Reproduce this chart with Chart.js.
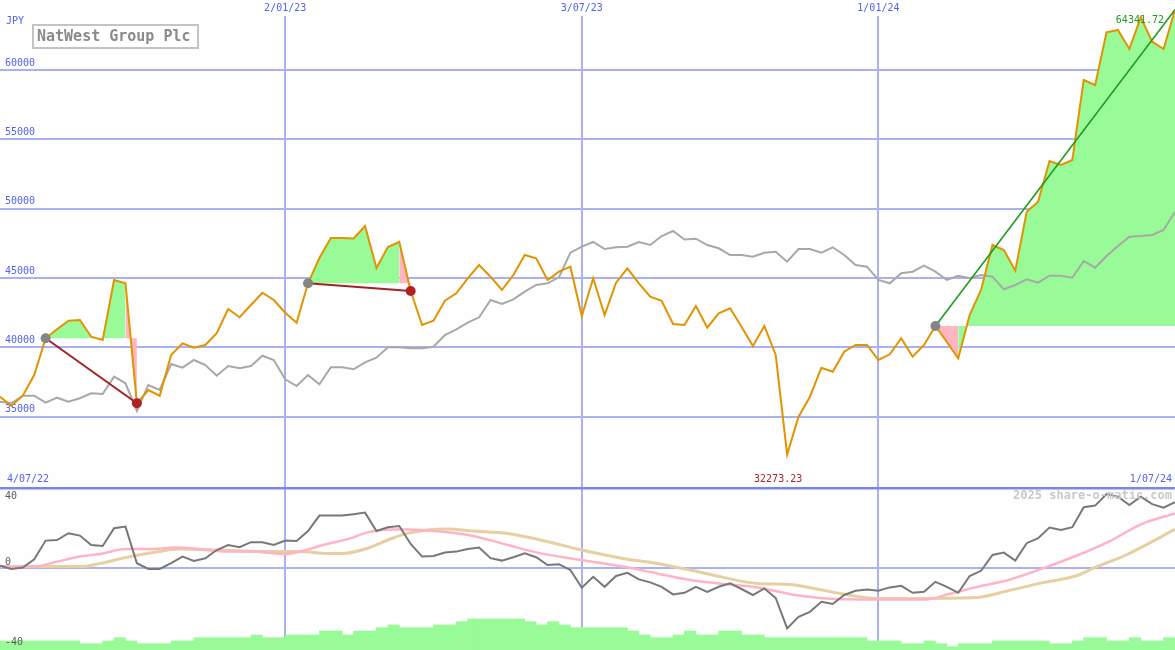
<!DOCTYPE html>
<html>
<head>
<meta charset="utf-8">
<script src="https://cdn.jsdelivr.net/npm/chart.js@4.4.1/dist/chart.umd.min.js"></script>
<style>
  html, body { margin: 0; padding: 0; background: #fdfefd; }
  #wrap { position: relative; width: 1175px; height: 650px; overflow: hidden; }
  #top { position: absolute; left: 0; top: 0; }
  #bottom { position: absolute; left: 0; top: 486px; }
</style>
</head>
<body>
<div id="wrap">
  <canvas id="top" width="1175" height="486"></canvas>
  <canvas id="bottom" width="1175" height="164"></canvas>
</div>
<script>
// weekly closes, 4/07/22 .. 1/07/24 (index 0 = first week shown)
const dateWeeks = [25, 51, 77];
const dateLabels = ["2/01/23", "3/07/23", "1/01/24"];
const firstDate = "4/07/22";
const lastDate = "1/07/24";
const priceTicks = [35000, 40000, 45000, 50000, 55000, 60000];

const price = [36445, 35796, 36517, 38010, 40656, 41304, 41925, 41975, 40771, 40533,
  44859, 44621, 35969, 36928, 36517, 39451, 40295, 39978, 40172, 41016,
  42768, 42170, 43056, 43943, 43417, 42501, 41780, 44621, 46445, 47887,
  47887, 47851, 48752, 45724, 47238, 47599, 44066, 41614, 41925, 43367,
  43900, 44982, 45940, 45097, 44138, 45219, 46661, 46424, 44859, 45457,
  45818, 42263, 44982, 42335, 44664, 45703, 44621, 43655, 43367, 41687,
  41614, 42984, 41420, 42458, 42819, 41492, 40100, 41542, 39451, 32273.23,
  35003, 36445, 38536, 38247, 39689, 40172, 40172, 39091, 39502, 40656,
  39329, 40172, 41542, 40389, 39214, 42335, 44138, 47382, 47022, 45530,
  49783, 50504, 53439, 53150, 53511, 59279, 58918, 62718, 62884, 61514,
  63800, 62040, 61514, 64341.72];

// comparison line (grey)
const compare = [36084, 35969, 36517, 36517, 36012, 36373, 36084, 36330, 36690, 36640,
  37887, 37411, 35414, 37288, 36928, 38803, 38536, 39091, 38730, 37959,
  38658, 38493, 38658, 39401, 39091, 37699, 37216, 38010, 37339, 38565,
  38565, 38420, 38925, 39257, 40007, 40007, 39935, 39935, 40050, 40893,
  41304, 41780, 42170, 43417, 43129, 43467, 44015, 44498, 44621, 45054,
  46827, 47260, 47599, 47094, 47217, 47260, 47599, 47382, 48031, 48392,
  47779, 47837, 47382, 47145, 46661, 46661, 46539, 46827, 46899, 46178,
  47094, 47094, 46827, 47217, 46661, 45940, 45818, 44859, 44621, 45342,
  45457, 45890, 45457, 44859, 45169, 44982, 45219, 45097, 44188, 44498,
  44909, 44664, 45169, 45169, 45025, 46229, 45746, 46589, 47310, 47981,
  48031, 48103, 48464, 49783];

// trends: start week, end week
const trendStart = [4, 27, 82];
const trendEnd = [12, 36, 103];

// lower panel
const oscillator = [1.2, -0.5, 0.2, 4.4, 13.7, 14, 17.4, 16.2, 11.5, 11,
  19.9, 20.7, 2.4, -0.5, -0.5, 2.4, 5.7, 3.5, 4.9, 9,
  11.5, 10.4, 12.9, 12.9, 11.5, 13.7, 13.5, 18.5, 26.2, 26.2,
  26.2, 26.9, 27.7, 18.5, 20.4, 21, 12, 5.7, 6, 7.7,
  8.2, 9.5, 10.2, 4.9, 3.7, 5.4, 7.4, 5.4, 1.5, 1.9,
  -1, -9.9, -4.4, -9.4, -4, -2.4, -5.7, -7.2, -9.4, -13.2,
  -12.4, -9.4, -11.9, -9.4, -7.7, -10.5, -13.5, -10.2, -15, -30.2,
  -24.4, -21.9, -16.9, -18, -13.5, -11.4, -10.7, -11.4, -9.7, -8.9,
  -12.4, -11.9, -6.9, -9.4, -12.4, -4, -1.4, 6.5, 7.7, 3.7,
  12.4, 14.9, 20.2, 19, 20.4, 30.4, 31.2, 37, 35.7, 31.5,
  35.7, 31.9, 30.2, 32.9];

const fastWeeks = [0, 3, 5, 7, 9, 11, 13.4, 15.5, 17.5, 20, 22, 25, 26.3, 28.3, 30.7, 32.2, 34.2, 35.7, 38.6, 41.5,
  44.5, 47.4, 51, 54.6, 57.6, 60.5, 63.4, 66.4, 69.7, 72.4, 76.8, 81.1, 83.2, 85.5, 88.4, 91.4, 94.3, 97.2, 100.2, 103];
const fastAvg = [0.7, 0.7, 3.2, 5.7, 7.3, 9.5, 9.5, 10.2, 9.4, 8.2, 8.2, 7, 8.2, 11.5, 14.8, 17.8, 19.3, 19.3, 18.2, 16,
  11.5, 7.3, 4, 0.7, -2.7, -6, -8, -9.7, -13.5, -15.2, -15.7, -15.7, -13, -9.7, -6, -0.2, 6, 13.2, 22.3, 27.3];

const slowWeeks = [0, 7.3, 8.8, 11.1, 13.4, 15.8, 18.7, 20.4, 23.4, 26.3, 28.7, 30.1, 32.2, 34.2, 35.7, 39.2, 41.5, 44.5, 47.4, 51,
  54.6, 57.6, 60.5, 63.4, 66.4, 69.3, 70.9, 73.9, 76.8, 81.1, 85.5, 88.4, 91.4, 94.3, 96, 98.7, 103];
const slowAvg = [0.7, 0.7, 2.3, 5.3, 7.7, 9.5, 9, 8.7, 8.2, 8.2, 7.3, 7.3, 9.8, 14.5, 17.3, 19.5, 18.5, 17.3, 14, 9,
  4.8, 2.3, -1, -4.7, -7.7, -8.2, -9.7, -13, -15.2, -15.2, -14.8, -11.3, -7.3, -4, 0.3, 6.5, 19.3];

// weekly volume, relative units
const volume = [9, 9, 9, 9, 9, 9, 9, 6.3, 6.3, 9, 12.3, 9, 6.3, 6.3, 6.3, 9, 9, 12.3, 12.3, 12.3,
  12.3, 12.3, 15, 12.3, 12.3, 15, 15, 15, 19, 19, 15, 19, 19, 22.3, 25, 22.3, 22.3, 22.3, 25, 25,
  28.3, 31, 31, 31, 31, 31, 28.3, 25, 28.3, 25, 22.3, 22.3, 22.3, 22.3, 22.3, 19, 15, 12.3, 12.3, 15,
  19, 15, 15, 19, 19, 15, 15, 12.3, 12.3, 12.3, 12.3, 12.3, 12.3, 12.3, 12.3, 12.3, 9, 9, 9, 6.3,
  6.3, 9, 6.3, 3.3, 6.3, 6.3, 6.3, 9, 9, 9, 9, 9, 6.3, 6.3, 9, 12.3, 12.3, 9, 9, 12.3,
  9, 9, 12.3];

const mono = "'DejaVu Sans Mono', monospace";
const blue = '#5263ee';
const gridCol = '#a9b1f1';
const green = '#98fb98';
const pink = '#ffb6c1';

Chart.defaults.font.family = mono;
Chart.defaults.animation = false;

const xy = (arr, x0) => arr.map((v, k) => ({x: (x0 || 0) + k, y: v}));

// stop the axes from reserving room for their labels
function noPad(s) {
  s.paddingLeft = 0; s.paddingRight = 0; s.paddingTop = 0; s.paddingBottom = 0;
}

function trendFill(s, e) {
  const base = price[s];
  return {
    data: xy(price.slice(s, e + 1), s),
    borderWidth: 0,
    borderColor: 'rgba(0,0,0,0)',
    pointRadius: 0,
    backgroundColor: green,
    fill: {value: base},
    segment: {backgroundColor: c => c.p1.parsed.y >= base ? green : pink},
    order: 3
  };
}

function trendLine(s, e) {
  const up = price[e] > price[s];
  return {
    data: [{x: s, y: price[s]}, {x: e, y: price[e]}],
    borderColor: up ? '#1f9a1f' : '#a32323',
    borderWidth: up ? 1.6 : 2,
    pointRadius: [5, up ? 0 : 5],
    pointBackgroundColor: ['#858585', '#b02222'],
    pointBorderWidth: 0,
    clip: false,
    order: 0
  };
}

const xTop = {
  type: 'linear', position: 'top', min: 0, max: 103, offset: false,
  afterBuildTicks: s => { s.ticks = dateWeeks.map(v => ({value: v})); },
  afterFit: s => { s.height = 16; noPad(s); },
  ticks: {
    callback: v => dateLabels[dateWeeks.indexOf(v)],
    color: blue, font: {size: 10}, padding: 2, maxRotation: 0, autoSkip: false
  },
  grid: {color: gridCol, lineWidth: 2, drawTicks: false},
  border: {display: false}
};

const topTexts = {
  id: 'topTexts',
  afterDraw(chart) {
    const c = chart.ctx, xs = chart.scales.x, ys = chart.scales.y;
    c.save();
    c.font = '10px ' + mono;
    c.textBaseline = 'middle';
    c.fillStyle = blue;
    c.textAlign = 'left';
    c.fillText('JPY', 6, 21);
    c.fillText(firstDate, 7, 479);
    c.textAlign = 'right';
    c.fillText(lastDate, 1172, 479);

    const lo = price.indexOf(Math.min(...price));
    const hi = price.indexOf(Math.max(...price));
    c.fillStyle = '#a52a2a';
    c.textAlign = 'center';
    c.fillText(price[lo].toFixed(2), xs.getPixelForValue(lo) - 9, 479);
    c.fillStyle = '#1f9a1f';
    c.textAlign = 'right';
    c.fillText(price[hi].toFixed(2), xs.getPixelForValue(hi) - 11, ys.getPixelForValue(price[hi]) + 11);

    c.fillStyle = '#ffffff';
    c.fillRect(33, 25, 165, 23);
    c.strokeStyle = '#c4c4c4';
    c.lineWidth = 2;
    c.strokeRect(33, 25, 165, 23);
    c.fillStyle = '#8a8a8a';
    c.font = 'bold 15px ' + mono;
    c.textAlign = 'left';
    c.fillText('NatWest Group Plc', 37, 37);
    c.restore();
  }
};

new Chart(document.getElementById('top'), {
  type: 'line',
  data: {
    datasets: [
      ...trendStart.map((s, k) => trendLine(s, trendEnd[k])),
      {data: xy(price), borderColor: '#e29300', borderWidth: 2, pointRadius: 0, clip: false, order: 1},
      {data: xy(compare), borderColor: '#a8a8a8', borderWidth: 2, pointRadius: 0, order: 2},
      ...trendStart.map((s, k) => trendFill(s, trendEnd[k]))
    ]
  },
  options: {
    responsive: false,
    layout: {padding: 0, autoPadding: false},
    plugins: {legend: {display: false}, tooltip: {enabled: false}},
    scales: {
      x: xTop,
      y: {
        min: 30006, max: 63893,
        afterBuildTicks: s => { s.ticks = priceTicks.map(v => ({value: v})); },
        afterFit: s => { s.width = 0; noPad(s); },
        ticks: {mirror: true, padding: 5, labelOffset: -7, color: blue, font: {size: 10}, callback: v => String(v)},
        grid: {color: gridCol, lineWidth: 2, drawTicks: false},
        border: {display: false}
      }
    }
  },
  plugins: [topTexts]
});

const bottomTexts = {
  id: 'bottomTexts',
  afterDraw(chart) {
    const c = chart.ctx, ys = chart.scales.y;
    c.save();
    c.textBaseline = 'middle';
    c.textAlign = 'left';
    c.font = '10px ' + mono;
    c.fillStyle = '#5a5a5a';
    [40, 0, -40].forEach(v => {
      c.fillText(String(v), 5, Math.max(ys.getPixelForValue(v) - 6, 10));
    });
    c.font = 'bold 12px ' + mono;
    c.fillStyle = '#c9c9c9';
    c.textAlign = 'right';
    c.fillText('2025 share-o-matic.com', 1172, 10);
    c.restore();
  }
};

new Chart(document.getElementById('bottom'), {
  type: 'line',
  data: {
    datasets: [
      {data: xy(oscillator), borderColor: '#787878', borderWidth: 2, pointRadius: 0, order: 0},
      {data: fastWeeks.map((w, k) => ({x: w, y: fastAvg[k]})), borderColor: '#ffb3c6', borderWidth: 2.5,
        pointRadius: 0, cubicInterpolationMode: 'monotone', order: 1},
      {data: slowWeeks.map((w, k) => ({x: w, y: slowAvg[k]})), borderColor: '#e6cfa0', borderWidth: 3,
        pointRadius: 0, cubicInterpolationMode: 'monotone', order: 2},
      {type: 'bar', yAxisID: 'yv', data: volume.map((v, k) => ({x: k + 0.5, y: v})),
        backgroundColor: green, borderWidth: 0, barPercentage: 1, categoryPercentage: 1, order: 5}
    ]
  },
  options: {
    responsive: false,
    layout: {padding: 0, autoPadding: false},
    plugins: {legend: {display: false}, tooltip: {enabled: false}},
    scales: {
      x: {
        type: 'linear', position: 'bottom', min: 0, max: 103, offset: false,
        afterBuildTicks: s => { s.ticks = dateWeeks.map(v => ({value: v})); },
        afterFit: s => { s.height = 0; noPad(s); },
        ticks: {display: false},
        grid: {color: gridCol, lineWidth: 2, drawTicks: false, offset: false},
        border: {display: false}
      },
      y: {
        min: -41, max: 41,
        afterBuildTicks: s => { s.ticks = [{value: 40}, {value: 0}]; },
        afterFit: s => { s.width = 0; noPad(s); },
        ticks: {display: false},
        grid: {
          color: c => c.tick && c.tick.value === 40 ? '#7a87ea' : gridCol,
          lineWidth: c => c.tick && c.tick.value === 40 ? 2.5 : 2,
          drawTicks: false
        },
        border: {display: false}
      },
      yv: {display: false, min: 0, max: 164, afterFit: noPad}
    }
  },
  plugins: [bottomTexts]
});
</script>
</body>
</html>
